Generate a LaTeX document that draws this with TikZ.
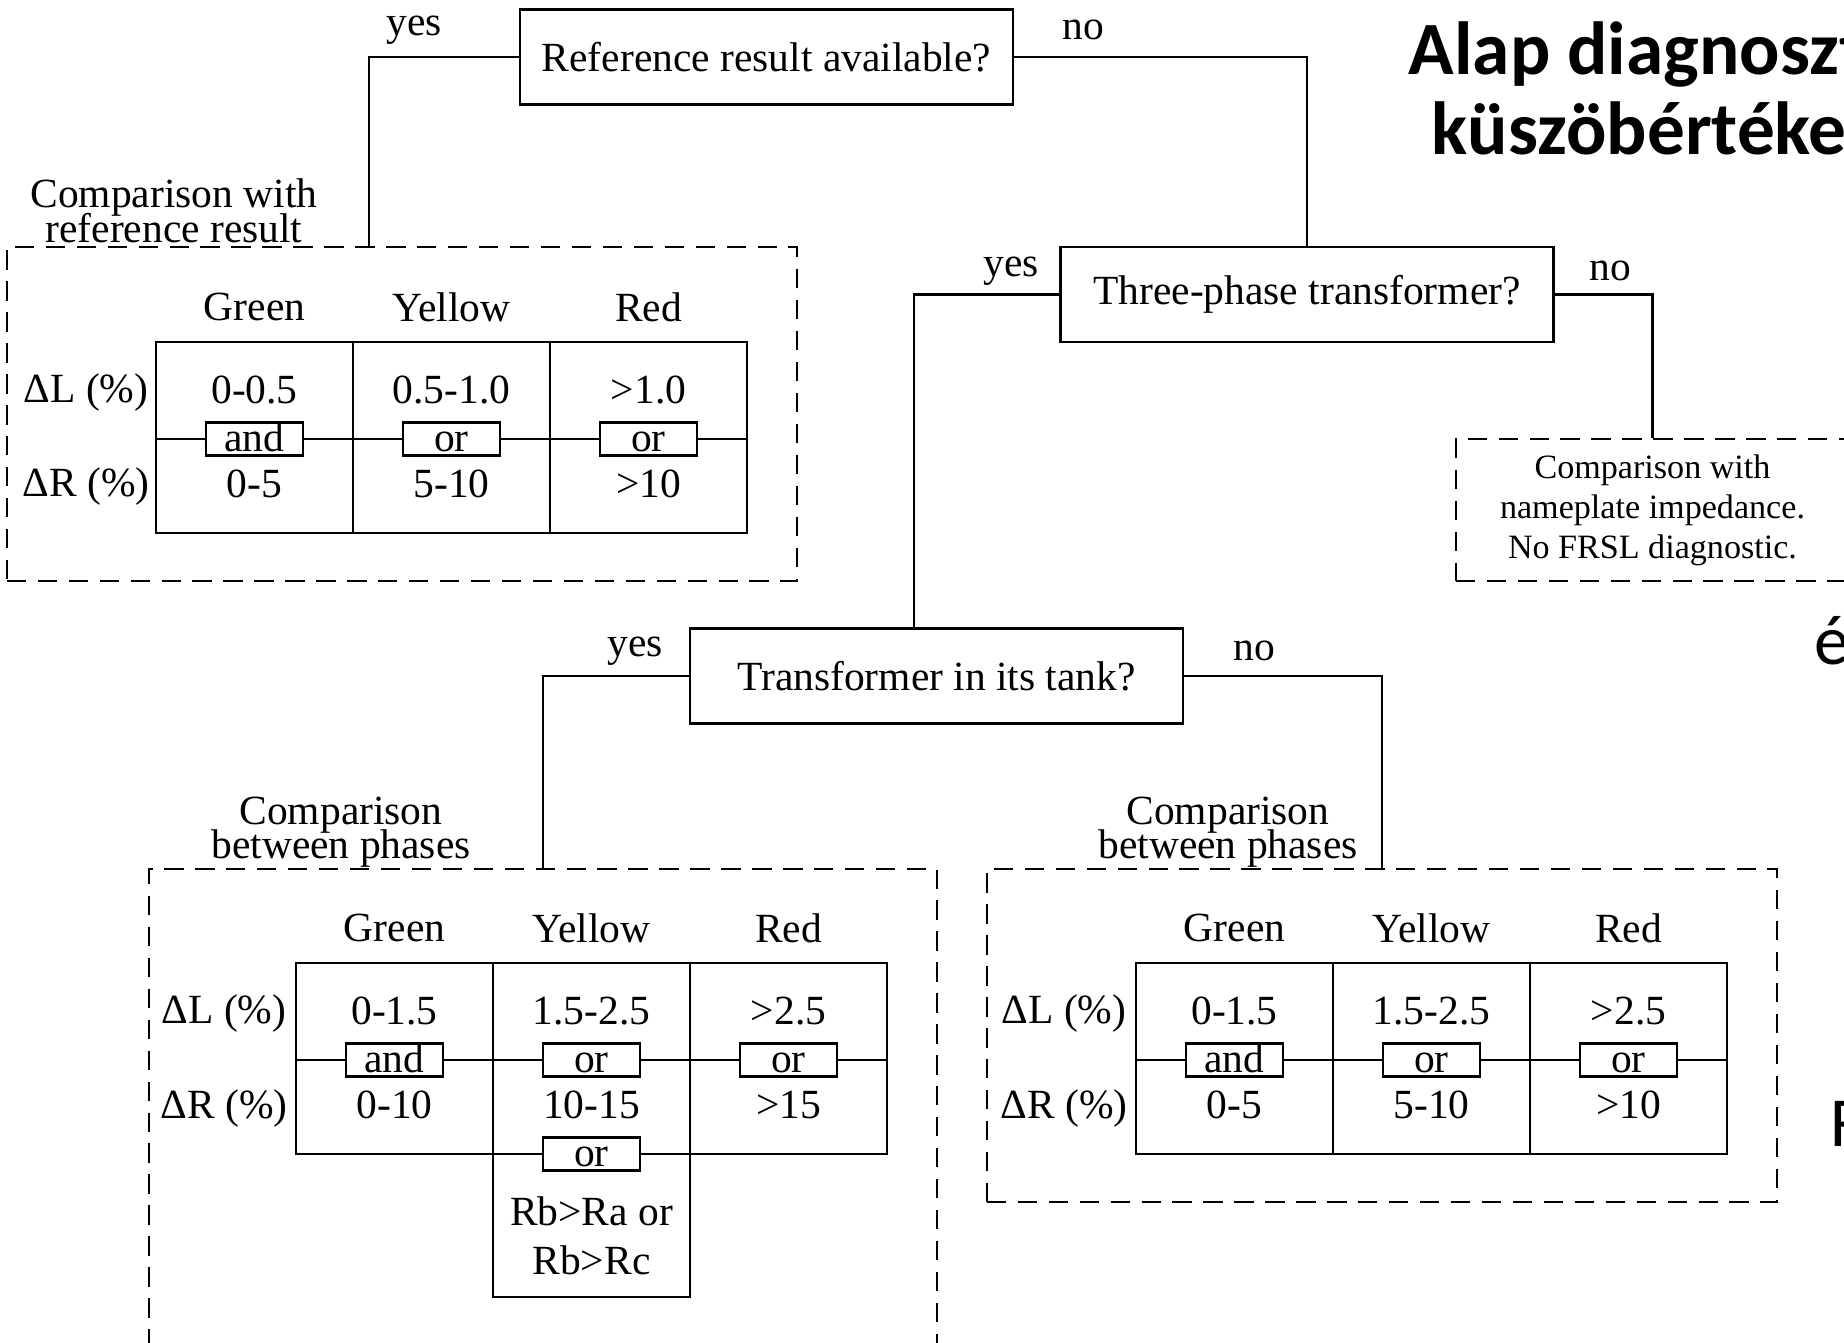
\documentclass[tikz,border=0pt]{standalone}
\usepackage{fontspec}
\setmainfont{Liberation Serif}
\newfontfamily\headfont{Carlito}

\begin{document}
\begin{tikzpicture}[x=0.01cm, y=-0.01cm,
  % decision boxes and dashed result regions
  question/.style={draw, line width=0.7pt, minimum width=4.93cm, minimum height=0.95cm, inner sep=0pt, font=\fontsize{11.8}{14}\selectfont},
  region/.style={draw, line width=0.7pt, dash pattern=on 5.5pt off 3.3pt, inner sep=0pt},
  regionlabel/.style={align=center, inner sep=0pt, font={\fontsize{11.8}{9.8}\selectfont\setlength{\lineskiplimit}{-20pt}}},
  % table text and the and/or gates on the cell borders
  celltext/.style={inner sep=0pt, font=\fontsize{11.8}{14}\selectfont},
  cellline/.style={line width=0.7pt},
  gate/.style={draw, fill=white, line width=0.7pt, minimum width=0.97cm, minimum height=0.33cm, inner sep=0pt, text height=1.5ex, text depth=0pt, font=\fontsize{11.8}{14}\selectfont},
  answer/.style={inner sep=0pt, font=\fontsize{11.8}{14}\selectfont},
  link/.style={line width=0.7pt},
  headline/.style={inner sep=0pt, anchor=base west, font=\headfont\bfseries\fontsize{21.4}{23}\selectfont},
  sidetext/.style={inner sep=0pt, anchor=base west, font=\headfont\fontsize{20}{23}\selectfont}
]
\path[use as bounding box, clip] (0,0) rectangle (1844,1343);

% Decision boxes
\node[question] (refq) at (766.5,57) {Reference result available?};
\node[question] (phaseq) at (1307,294.5) {Three-phase transformer?};
\node[question] (tankq) at (936.5,676) {Transformer in its tank?};

% Result regions
\node[region, minimum width=7.90cm, minimum height=3.34cm] (refcmp) at (402,414) {};
\node[region, minimum width=3.93cm, minimum height=1.42cm, align=center, font=\fontsize{9.7}{11.4}\selectfont] (platecmp) at (1652.5,510) {Comparison with\\nameplate impedance.\\No FRSL diagnostic.};
\node[region, minimum width=7.88cm, minimum height=5.31cm] (tankcmp) at (543,1134.5) {};
\node[region, minimum width=7.90cm, minimum height=3.33cm] (coilcmp) at (1382,1035.5) {};

\node[regionlabel] (reflbl) at (174,211) {Comparison with\\reference result};
\node[regionlabel] (tanklbl) at (341,832) {Comparison\\between phases};
\node[regionlabel] (coillbl) at (1228,832) {Comparison\\between phases};

% Connectors
\coordinate (refin) at (369,247);
\coordinate (tankin) at (914,629);
\draw[link] (refq.west) -| (refin);
\draw[link] (refq.east) -| (phaseq.north);
\draw[link] (phaseq.west) -| (tankin);
\draw[link] (phaseq.east) -| (platecmp.north);
\draw[link] (tankq.west) -| (tankcmp.north);
\draw[link] (tankq.east) -| (coilcmp.north);

\node[answer] (yes1) at (414,30) {yes};
\node[answer] (no1) at (1083,30) {no};
\node[answer] (yes2) at (1011,271) {yes};
\node[answer] (no2) at (1610,271) {no};
\node[answer] (yes3) at (635,651) {yes};
\node[answer] (no3) at (1254,651) {no};

% Table: comparison with reference result
\draw[cellline] (156,342) rectangle (747,533);
\draw[cellline] (353,342) -- (353,533) (550,342) -- (550,533) (156,439) -- (747,439);
\node[celltext] (ta-g) at (254.5,307) {Green};
\node[celltext] (ta-y) at (451.5,307) {Yellow};
\node[celltext] (ta-r) at (648.5,307) {Red};
\node[celltext] (ta-dl) at (86,393) {ΔL (\%)};
\node[celltext] (ta-dr) at (86,487) {ΔR (\%)};
\node[celltext] (ta-l1) at (254.5,390) {0-0.5};
\node[celltext] (ta-l2) at (451.5,390) {0.5-1.0};
\node[celltext] (ta-l3) at (648.5,390) {>1.0};
\node[gate] (ta-a1) at (254.5,439) {and};
\node[gate] (ta-a2) at (451.5,439) {or};
\node[gate] (ta-a3) at (648.5,439) {or};
\node[celltext] (ta-r1) at (254.5,484) {0-5};
\node[celltext] (ta-r2) at (451.5,484) {5-10};
\node[celltext] (ta-r3) at (648.5,484) {>10};

% Table: transformer in its tank
\draw[cellline] (296,963) rectangle (887,1154);
\draw[cellline] (493,963) -- (493,1154) (690,963) -- (690,1154) (296,1060) -- (887,1060);
\draw[cellline] (493,1154) rectangle (690,1297);
\node[celltext] (tb-g) at (394.5,928) {Green};
\node[celltext] (tb-y) at (591.5,928) {Yellow};
\node[celltext] (tb-r) at (788.5,928) {Red};
\node[celltext] (tb-dl) at (224,1014) {ΔL (\%)};
\node[celltext] (tb-dr) at (224,1109) {ΔR (\%)};
\node[celltext] (tb-l1) at (394.5,1011) {0-1.5};
\node[celltext] (tb-l2) at (591.5,1011) {1.5-2.5};
\node[celltext] (tb-l3) at (788.5,1011) {>2.5};
\node[gate] (tb-a1) at (394.5,1060) {and};
\node[gate] (tb-a2) at (591.5,1060) {or};
\node[gate] (tb-a3) at (788.5,1060) {or};
\node[celltext] (tb-r1) at (394.5,1105) {0-10};
\node[celltext] (tb-r2) at (591.5,1105) {10-15};
\node[celltext] (tb-r3) at (788.5,1105) {>15};
\node[gate] (tb-a4) at (591.5,1154) {or};
\node[celltext, align=center] (tb-rb) at (591.5,1236) {Rb>Ra or\\Rb>Rc};

% Table: transformer out of its tank
\draw[cellline] (1136,963) rectangle (1727,1154);
\draw[cellline] (1333,963) -- (1333,1154) (1530,963) -- (1530,1154) (1136,1060) -- (1727,1060);
\node[celltext] (tc-g) at (1234.5,928) {Green};
\node[celltext] (tc-y) at (1431.5,928) {Yellow};
\node[celltext] (tc-r) at (1628.5,928) {Red};
\node[celltext] (tc-dl) at (1064,1014) {ΔL (\%)};
\node[celltext] (tc-dr) at (1064,1109) {ΔR (\%)};
\node[celltext] (tc-l1) at (1234.5,1011) {0-1.5};
\node[celltext] (tc-l2) at (1431.5,1011) {1.5-2.5};
\node[celltext] (tc-l3) at (1628.5,1011) {>2.5};
\node[gate] (tc-a1) at (1234.5,1060) {and};
\node[gate] (tc-a2) at (1431.5,1060) {or};
\node[gate] (tc-a3) at (1628.5,1060) {or};
\node[celltext] (tc-r1) at (1234.5,1105) {0-5};
\node[celltext] (tc-r2) at (1431.5,1105) {5-10};
\node[celltext] (tc-r3) at (1628.5,1105) {>10};

% Slide title and side text
\node[headline] (title1) at (1408,75) {Alap diagnoszt};
\node[headline] (title2) at (1431,155) {küszöbértéke};
\node[sidetext] (side1) at (1814,665) {é};
\node[sidetext] (side2) at (1830,1147) {F};

\end{tikzpicture}
\end{document}
